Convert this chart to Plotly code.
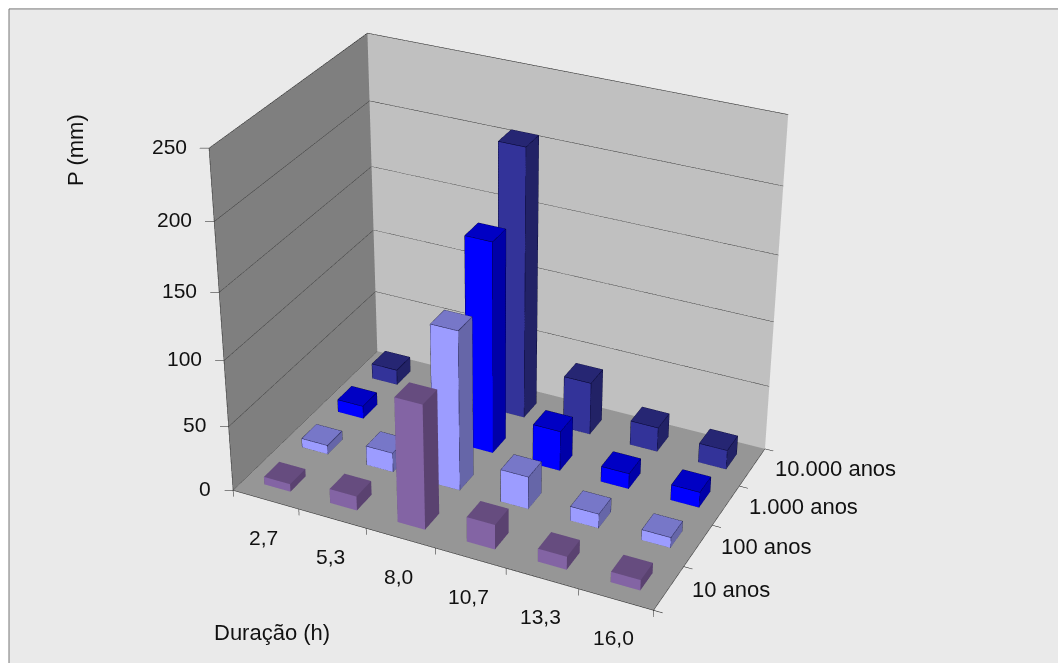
import numpy as np
import plotly.graph_objects as go

durations = ["2,7", "5,3", "8,0", "10,7", "13,3", "16,0"]
series_names = ["10 anos", "100 anos", "1.000 anos", "10.000 anos"]
p_10 = [6, 11, 95, 19, 10, 8]
p_100 = [7, 15, 122, 25, 11, 8]
p_1000 = [10, 12, 162, 31, 12, 12]
p_10000 = [12, 14, 208, 41, 19, 15]
z_ticks = [0, 50, 100, 150, 200, 250]

face_colors = {
    "10 anos": ("#8364A4", "#664C7F", "#5A4270"),
    "100 anos": ("#9C9CFF", "#7777C8", "#6666A8"),
    "1.000 anos": ("#0000FF", "#0000C4", "#0000A8"),
    "10.000 anos": ("#333399", "#262673", "#222266"),
}
edge_colors = {"10 anos": None, "100 anos": "#111133", "1.000 anos": "#000022", "10.000 anos": "#000022"}

XR, YR, ZR = (-0.5, 6.5), (-0.5, 4.5), (-30.0, 280.0)
def norm(p):
    return [(p[0]-XR[0])/(XR[1]-XR[0]), (p[1]-YR[0])/(YR[1]-YR[0]), (p[2]-ZR[0])/(ZR[1]-ZR[0])]

# calibration: where the chart box corners sit on the page (pixels)
calib = [((0,0,0),(233,490)), ((6,0,0),(653,611)), ((6,4,0),(765,448)), ((0,4,0),(377,352)),
         ((0,0,250),(209,148)), ((0,4,250),(367,33)), ((6,4,250),(788,115))]
rows = []
for d, (u, v) in calib:
    X = norm(d) + [1]
    rows.append(X + [0]*4 + [-u*a for a in X])
    rows.append([0]*4 + X + [-v*a for a in X])
P = np.linalg.svd(np.array(rows, float))[2][-1].reshape(3, 4)
if P[2] @ np.array([.5, .5, .5, 1]) < 0:
    P = -P
A = P[:, :3]
eqs, rhs = [], []
for a, b in [(0, 1), (0, 2), (1, 2)]:
    vi, vj = A[:, a], A[:, b]
    eqs.append([-(vi[0]*vj[2]+vi[2]*vj[0]), -(vi[1]*vj[2]+vi[2]*vj[1]), vi[2]*vj[2]])
    rhs.append(-(vi[0]*vj[0]+vi[1]*vj[1]))
cx, cy, w = np.linalg.solve(np.array(eqs), np.array(rhs))
f = np.sqrt(w-cx*cx-cy*cy)
K = np.array([[f, 0, cx], [0, f, cy], [0, 0, 1]])
M = np.linalg.inv(K) @ P
S = np.linalg.norm(M[:, :3], axis=0)
scale = 1/S.mean()
M *= scale
S = S*scale
R = M[:, :3]/S
C = -np.linalg.solve(M[:, :3], M[:, 3])
eye = S*(C-.5)
forward = R.T @ np.array([0, 0, 1.0])
up = -R.T @ np.array([0, 1.0, 0])
look = eye + forward*np.linalg.norm(eye)

H = 2*f*np.tan(np.pi/8)
W = 1058
T = cy - H/2
def py(y):
    return 1-(y-T)/H
def px(x):
    return x/W

fig = go.Figure()
hw = 0.20
for s, (name, vals) in enumerate(zip(series_names, [p_10, p_100, p_1000, p_10000])):
    front, top, side = face_colors[name]
    xs, ys, zs, I, J, K_, fc = [], [], [], [], [], [], []
    ex, ey, ez = [], [], []
    for c, val in enumerate(vals):
        x0, x1, y0, y1 = c+.5-hw, c+.5+hw, s+.5-hw, s+.5+hw
        b = len(xs)
        xs += [x0, x1, x1, x0, x0, x1, x1, x0]
        ys += [y0, y0, y1, y1, y0, y0, y1, y1]
        zs += [0, 0, 0, 0, val, val, val, val]
        for q, col in [((0,1,5,4),front), ((1,2,6,5),side), ((4,5,6,7),top), ((3,2,6,7),side), ((0,3,7,4),side)]:
            I += [b+q[0], b+q[0]]; J += [b+q[1], b+q[2]]; K_ += [b+q[2], b+q[3]]; fc += [col, col]
        for e in [(0,1),(1,2),(4,5),(5,6),(6,7),(7,4),(0,4),(1,5),(2,6),(3,7)]:
            for t in e:
                ex.append(xs[b+t]); ey.append(ys[b+t]); ez.append(zs[b+t])
            ex.append(None); ey.append(None); ez.append(None)
    fig.add_trace(go.Mesh3d(x=xs, y=ys, z=zs, i=I, j=J, k=K_, facecolor=fc, flatshading=True, name=name,
                            lighting=dict(ambient=1, diffuse=0, specular=0, roughness=1, fresnel=0), hoverinfo="skip"))
    if edge_colors[name]:
        fig.add_trace(go.Scatter3d(x=ex, y=ey, z=ez, mode="lines", line=dict(color=edge_colors[name], width=1), hoverinfo="skip", showlegend=False))

# walls and floor
def quad(xs, ys, zs, color):
    fig.add_trace(go.Mesh3d(x=xs, y=ys, z=zs, i=[0,0], j=[1,2], k=[2,3], color=color, flatshading=True,
                            lighting=dict(ambient=1, diffuse=0, specular=0, roughness=1, fresnel=0), hoverinfo="skip"))
Z = z_ticks[-1]
quad([0,0,0,0], [0,4,4,0], [0,0,Z,Z], "#7F7F7F")
quad([0,6,6,0], [4,4,4,4], [0,0,Z,Z], "#C0C0C0")
quad([0,6,6,0], [0,0,4,4], [0,0,0,0], "#969696")

lx, ly, lz = [], [], []
def seg(a, b):
    lx.extend([a[0], b[0], None]); ly.extend([a[1], b[1], None]); lz.extend([a[2], b[2], None])
for z in z_ticks:
    seg((0, 0, z), (0, 4, z))
    if z > 0:
        seg((0, 4, z), (6, 4, z))
    seg((0, 0, z), (-.1, -.05, z))
seg((0,0,0),(0,0,Z))
seg((0,0,0),(6,0,0))
seg((6,0,0),(6,4,0))
for c in range(len(durations)+1):
    seg((c,0,0),(c,0,-5))
for r in range(len(series_names)+1):
    seg((6,r,0),(6.12,r,0))
fig.add_trace(go.Scatter3d(x=lx, y=ly, z=lz, mode="lines", line=dict(color="#1a1a1a", width=1), hoverinfo="skip", showlegend=False))

font = dict(family="Liberation Sans, Arial, sans-serif", size=21, color="#111111")
font_l = dict(family="Liberation Sans, Arial, sans-serif", size=22, color="#111111")
ann = []
for z in z_ticks:
    ann.append(dict(x=0, y=0, z=z, text=str(z), showarrow=False, xanchor="right", yanchor="middle", xshift=-20, yshift=2, font=font))
for c, lab in enumerate(durations):
    ann.append(dict(x=c+.5, y=0, z=0, text=lab, showarrow=False, xanchor="center", yanchor="middle", xshift=-2, yshift=-38, font=font))
for r, lab in enumerate(series_names):
    ann.append(dict(x=6, y=r+.5, z=0, text=lab, showarrow=False, xanchor="left", yanchor="middle", xshift=21, yshift=-1, font=font_l))

fig.update_layout(
    width=W, height=H, margin=dict(l=0, r=0, t=0, b=0), paper_bgcolor="white", showlegend=False,
    shapes=[dict(type="rect", layer="below", xref="paper", yref="paper", x0=px(9), x1=1.01, y0=py(700), y1=py(9),
                 fillcolor="#EAEAEA", line=dict(color="#777777", width=1))],
    annotations=[
        dict(xref="paper", yref="paper", x=px(76), y=py(150), xanchor="center", yanchor="middle", text="P (mm)", textangle=-90, showarrow=False, font=font_l),
        dict(xref="paper", yref="paper", x=px(272), y=py(633), xanchor="center", yanchor="middle", text="Duração (h)", showarrow=False, font=font_l),
    ],
    scene=dict(
        domain=dict(x=[0, min(1, 2*cx/W)], y=[0, 1]),
        xaxis=dict(visible=False, range=XR),
        yaxis=dict(visible=False, range=YR),
        zaxis=dict(visible=False, range=ZR),
        aspectmode="manual",
        aspectratio=dict(x=float(S[0]), y=float(S[1]), z=float(S[2])),
        camera=dict(eye=dict(x=float(eye[0]), y=float(eye[1]), z=float(eye[2])),
                    center=dict(x=float(look[0]), y=float(look[1]), z=float(look[2])),
                    up=dict(x=float(up[0]), y=float(up[1]), z=float(up[2])),
                    projection=dict(type="perspective")),
        annotations=ann,
    ),
)
post = f"""
document.documentElement.style.overflow='hidden';
document.body.style.margin='0'; document.body.style.overflow='hidden';
var g=document.getElementsByClassName('plotly-graph-div')[0];
g.style.position='absolute'; g.style.left='0px'; g.style.top='{T:.2f}px';
"""
fig.write_html("out.html", config=dict(responsive=False), default_width=f"{W}px", default_height=f"{H:.0f}px", post_script=post)
